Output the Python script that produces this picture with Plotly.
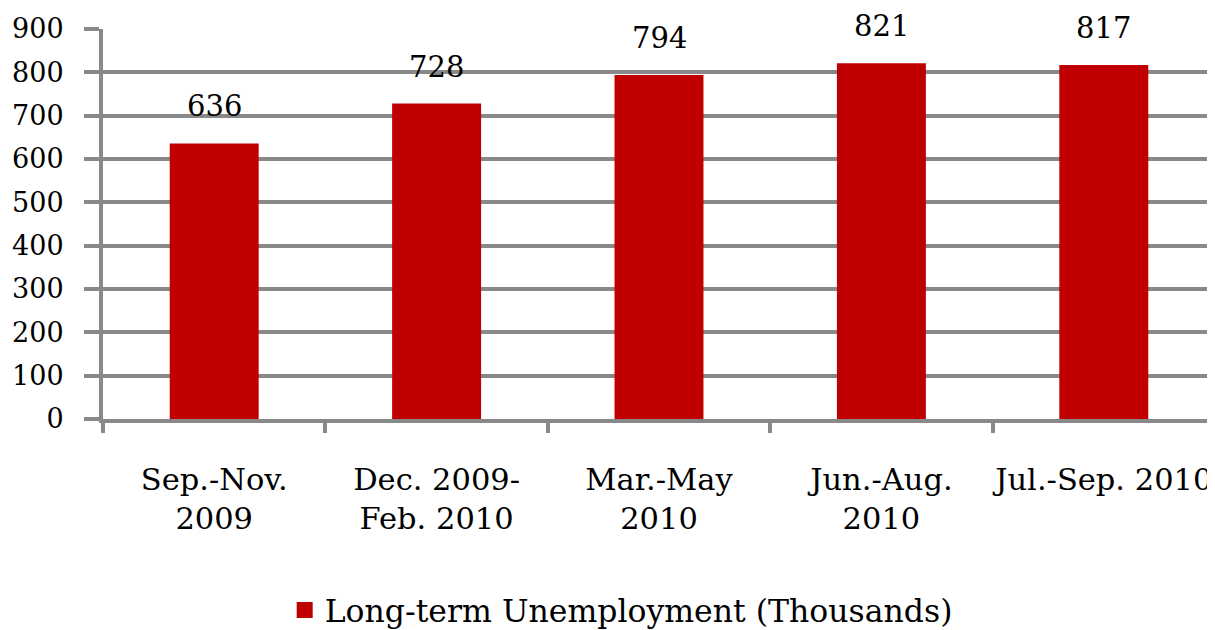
import plotly.graph_objects as go

categories = ["Sep.-Nov.<br>2009", "Dec. 2009-<br>Feb. 2010", "Mar.-May<br>2010", "Jun.-Aug.<br>2010", "Jul.-Sep. 2010"]
values = [636, 728, 794, 821, 817]
series_name = "Long-term Unemployment (Thousands)"
y_ticks = [0, 100, 200, 300, 400, 500, 600, 700, 800, 900]

FONT = "DejaVu Serif"
GRAY = "#898989"
RED = "#C00000"

fig = go.Figure()
fig.add_trace(go.Bar(
    x=categories, y=values, name=series_name,
    marker=dict(color=RED, line=dict(width=0)),
    width=0.4,
    showlegend=False,
))
# legend entry with a larger square swatch
fig.add_trace(go.Scatter(
    x=[None], y=[None], mode="markers", name=series_name,
    marker=dict(symbol="square", size=18, color=RED),
    showlegend=True,
))
for c, v in zip(categories, values):
    fig.add_annotation(x=c, y=v, text=str(v), showarrow=False,
                       yanchor="bottom", yshift=18,
                       font=dict(family=FONT, size=29, color="black"))

# page body adds an 8px margin; figure is taller than the window so the legend
# sits at the bottom edge (cropped like the reference) without pushing margins
fig.update_layout(
    width=1207, height=640,
    margin=dict(l=95, r=0, t=21, b=229),
    plot_bgcolor="white", paper_bgcolor="white",
    font=dict(family=FONT, size=28, color="black"),
    showlegend=True,
    legend=dict(orientation="h", x=0.466, xanchor="center", y=-0.49, yanchor="middle",
                font=dict(family=FONT, size=31.5), itemwidth=30),
    bargap=0.6,
)
fig.update_xaxes(
    type="category", tickson="boundaries", ticks="outside", ticklen=10,
    tickwidth=4, tickcolor=GRAY, showline=True, linecolor=GRAY, linewidth=4,
    showgrid=False, ticklabelstandoff=30, automargin=False, tickangle=0,
    tickfont=dict(family=FONT, size=30.5),
)
fig.update_yaxes(
    range=[0, 900], tickvals=y_ticks, ticks="outside", ticklen=15,
    tickwidth=4, tickcolor=GRAY, showline=True, linecolor=GRAY, linewidth=4,
    showgrid=True, gridcolor=GRAY, gridwidth=4, zeroline=False, automargin=False,
    tickfont=dict(family=FONT, size=27), ticklabelstandoff=15,
)
fig.write_html("out.html")
